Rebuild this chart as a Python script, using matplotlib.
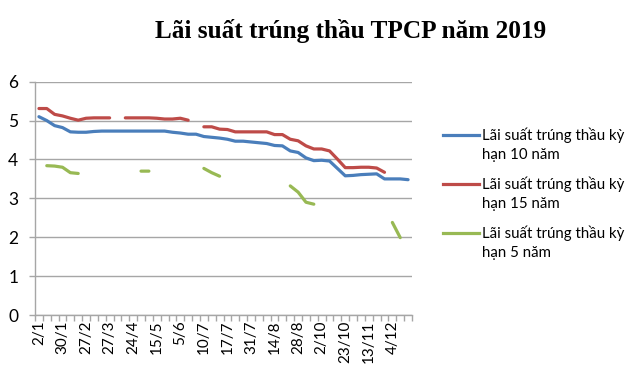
import numpy as np
import matplotlib
matplotlib.use("Agg")
import matplotlib.pyplot as plt
from matplotlib.lines import Line2D

nan = np.nan

tick_labels = ["2/1", "30/1", "27/2", "27/3", "24/4", "15/5", "5/6", "10/7",
               "17/7", "31/7", "14/8", "28/8", "2/10", "23/10", "13/11", "4/12"]

rate_10y = [5.10, 5.00, 4.87, 4.82, 4.71, 4.70, 4.70, 4.72, 4.73, 4.73,
            4.73, 4.73, 4.73, 4.73, 4.73, 4.73, 4.73, 4.70, 4.68, 4.65,
            4.65, 4.59, 4.57, 4.55, 4.52, 4.47, 4.47, 4.45, 4.43, 4.41,
            4.36, 4.35, 4.22, 4.18, 4.04, 3.97, 3.98, 3.96, 3.77, 3.58,
            3.59, 3.61, 3.62, 3.63, 3.50, 3.50, 3.50, 3.48]

rate_15y = [5.31, 5.31, 5.16, 5.12, 5.06, 5.01, 5.06, 5.07, 5.07, 5.07,
            nan, 5.07, 5.07, 5.07, 5.07, 5.06, 5.04, 5.04, 5.06, 5.01,
            nan, 4.84, 4.84, 4.78, 4.77, 4.71, 4.71, 4.71, 4.71, 4.71,
            4.64, 4.64, 4.52, 4.48, 4.35, 4.27, 4.27, 4.22, 4.01, 3.79,
            3.79, 3.80, 3.80, 3.78, 3.67, nan, nan, nan]

rate_5y = [nan, 3.84, 3.83, 3.80, 3.66, 3.64, nan, nan, nan, nan,
           nan, nan, nan, 3.70, 3.70, nan, nan, nan, nan, nan,
           nan, 3.77, 3.66, 3.57, nan, nan, nan, nan, nan, nan,
           nan, nan, 3.32, 3.16, 2.90, 2.85, nan, nan, nan, nan,
           nan, nan, nan, nan, nan, 2.38, 1.99, nan]

series_names = ["Lãi suất trúng thầu kỳ\nhạn 10 năm",
                "Lãi suất trúng thầu kỳ\nhạn 15 năm",
                "Lãi suất trúng thầu kỳ\nhạn 5 năm"]
colors = ["#4A7EBB", "#BE4B48", "#98B954"]

W, H = 639, 389
fig = plt.figure(figsize=(W / 100, H / 100), dpi=100)
ax = fig.add_axes([35 / W, 1 - 315 / H, (412 - 35) / W, (315 - 81.7) / H])

x = np.arange(len(rate_10y))
for vals, c, name in zip([rate_10y, rate_15y, rate_5y], colors, series_names):
    ax.plot(x, vals, color=c, lw=2.3, solid_capstyle="round",
            solid_joinstyle="round", label=name)

n = len(rate_10y)
ax.set_xlim(-0.5, n - 0.5)
ax.set_ylim(0, 6)
ax.set_yticks(range(0, 7))
ax.grid(axis="y", color="#A6A6A6", lw=1.0)
ax.set_axisbelow(True)

ax.set_xticks(np.arange(-0.5, n, 1))
ax.set_xticklabels([])
ax.set_xticks(np.arange(0, n, 3), minor=True)
ax.set_xticklabels(tick_labels, minor=True, rotation=90,
                   fontfamily="Lato", fontsize=11)
ax.tick_params(axis="x", which="major", length=4, color="#A6A6A6", width=1)
ax.tick_params(axis="x", which="minor", length=0, pad=4)
ax.tick_params(axis="y", length=4, color="#A6A6A6", width=1, pad=8)
for lab in ax.get_yticklabels():
    lab.set_fontfamily("Lato")
    lab.set_fontsize(12.5)

for s in ["top", "right"]:
    ax.spines[s].set_visible(False)
for s in ["left", "bottom"]:
    ax.spines[s].set_color("#A6A6A6")
    ax.spines[s].set_linewidth(1)

fig.text(351 / W, 1 - 38 / H, "Lãi suất trúng thầu TPCP năm 2019",
         ha="center", va="baseline", fontfamily="Liberation Serif",
         fontweight="bold", fontsize=18.2)

# legend drawn manually (handle aligned with first text line)
for k, (c, name) in enumerate(zip(colors, series_names)):
    y0 = 135 + 49 * k
    fig.add_artist(Line2D([443 / W, 479 / W], [1 - y0 / H, 1 - y0 / H],
                          color=c, lw=2.3, transform=fig.transFigure))
    for j, part in enumerate(name.split("\n")):
        fig.text(482 / W, 1 - (y0 + 20 * j) / H, part, ha="left",
                 va="center", fontfamily="Lato", fontsize=10.8)

fig.savefig("out.png", dpi=100)
